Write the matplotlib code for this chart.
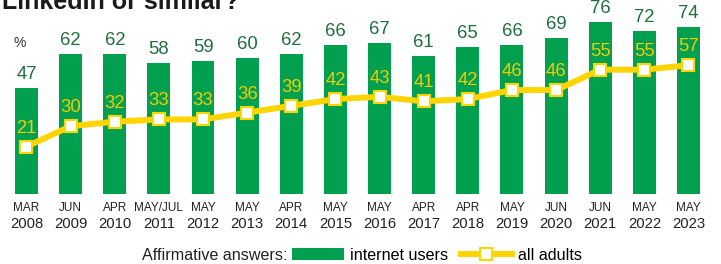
import matplotlib.pyplot as plt
import matplotlib.lines as mlines

plt.rcParams['font.family'] = ['Liberation Sans', 'DejaVu Sans']

months = ['MAR', 'JUN', 'APR', 'MAY/JUL', 'MAY', 'MAY', 'APR', 'MAY',
          'MAY', 'APR', 'APR', 'MAY', 'JUN', 'JUN', 'MAY', 'MAY']
years = ['2008', '2009', '2010', '2011', '2012', '2013', '2014', '2015',
         '2016', '2017', '2018', '2019', '2020', '2021', '2022', '2023']
internet_users = [47, 62, 62, 58, 59, 60, 62, 66, 67, 61, 65, 66, 69, 76, 72, 74]
all_adults = [21, 30, 32, 33, 33, 36, 39, 42, 43, 41, 42, 46, 46, 55, 55, 57]

green = '#00a04f'
green_txt = '#1f6e3f'
yellow = '#ffd400'
yellow_txt = '#f2cc00'

W, H = 721, 264
fig = plt.figure(figsize=(W / 100, H / 100), dpi=100)
# bar centres at 26.5 + 44.13*i px, zero line at 194 px from top
ax = fig.add_axes([0, 70 / H, 1, 194 / H])
ax.set_xlim(-26.5 / 44.13, (W - 26.5) / 44.13)
ax.set_ylim(0, 194 / 2.26)
ax.axis('off')

x = list(range(len(years)))
bars = ax.bar(x, internet_users, width=0.52, color=green, label='internet users')
line, = ax.plot(x, all_adults, color=yellow, lw=4.3, marker='s', ms=9,
                mfc='white', mec=yellow, mew=1.5, solid_joinstyle='round',
                label='all adults', zorder=3)

for i, v in enumerate(internet_users):
    ax.annotate(str(v), (i, v), xytext=(0, 5), textcoords='offset pixels',
                ha='center', va='bottom', fontsize=13.3, color=green_txt)
for i, v in enumerate(all_adults):
    ax.annotate(str(v), (i, v), xytext=(0, 10), textcoords='offset pixels',
                ha='center', va='bottom', fontsize=13.3, color=yellow_txt, zorder=4)

# category labels under bars
for i in x:
    ax.annotate(months[i], (i, 0), xytext=(0, -14), textcoords='offset pixels',
                ha='center', va='center', fontsize=8.5, color='#222222',
                annotation_clip=False)
    ax.annotate(years[i], (i, 0), xytext=(0, -30), textcoords='offset pixels',
                ha='center', va='center', fontsize=10.7, color='#222222',
                annotation_clip=False)

fig.text(13 / W, 1 - 43 / H, '%', fontsize=10, color='#333333', va='center')
fig.text(2 / W, 1 - 9 / H, 'LinkedIn or similar?', fontsize=18,
         fontweight='bold', color='#1a1a1a', va='baseline')

fig.text(287 / W, 1 - 255 / H, 'Affirmative answers:', fontsize=11.6,
         color='#222222', ha='right', va='center')
leg_line = mlines.Line2D([], [], color=yellow, lw=4.3, marker='s', ms=9,
                         mfc='white', mec=yellow, mew=1.5)
fig.legend([bars, leg_line], ['internet users', 'all adults'],
           loc='center left', bbox_to_anchor=(292 / W, 1 - 255 / H),
           ncol=2, frameon=False, fontsize=11.6, borderpad=0,
           handlelength=3.2, handleheight=0.8, handletextpad=0.37,
           columnspacing=0.8, borderaxespad=0)

fig.savefig('out.png', dpi=100)
